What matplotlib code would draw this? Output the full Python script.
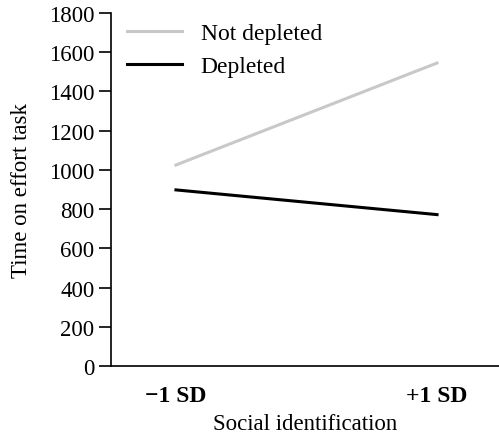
import matplotlib
matplotlib.use('Agg')
import matplotlib.pyplot as plt

plt.rcParams['font.family'] = ['Liberation Serif', 'DejaVu Serif']

x_labels = ['\u22121 SD', '+1 SD']
x_pos = [0, 1]
not_depleted = [1025, 1545]
depleted = [898, 772]
y_ticks = [0, 200, 400, 600, 800, 1000, 1200, 1400, 1600, 1800]

fig = plt.figure(figsize=(4.99, 4.35), dpi=100)
ax = fig.add_axes([0.2224, 0.1563, 0.7776, 0.8115])

ax.plot(x_pos, not_depleted, color='#c8c8c8', lw=2.2, label='Not depleted')
ax.plot(x_pos, depleted, color='black', lw=2.2, label='Depleted')

ax.set_xlim(-0.249, 1.2375)
ax.set_ylim(0, 1800)
ax.set_yticks(y_ticks)
ax.set_xticks(x_pos)
ax.set_xticklabels(x_labels, fontsize=17, fontweight='bold')
ax.tick_params(axis='x', length=0, pad=14)
ax.tick_params(axis='y', length=9, width=1.2, labelsize=16.5, pad=3)
for s in ['top', 'right']:
    ax.spines[s].set_visible(False)
ax.spines['left'].set_linewidth(1.2)
ax.spines['bottom'].set_linewidth(1.2)

ax.set_ylabel('Time on effort task', fontsize=16.5, labelpad=12)
ax.set_xlabel('Social identification', fontsize=16.5, labelpad=5)

ax.legend(loc='upper left', frameon=False, fontsize=17, handlelength=2.3,
          handletextpad=0.8, borderaxespad=0.0, labelspacing=0.5,
          bbox_to_anchor=(0.018, 1.0))

fig.savefig('out.png', dpi=100)
